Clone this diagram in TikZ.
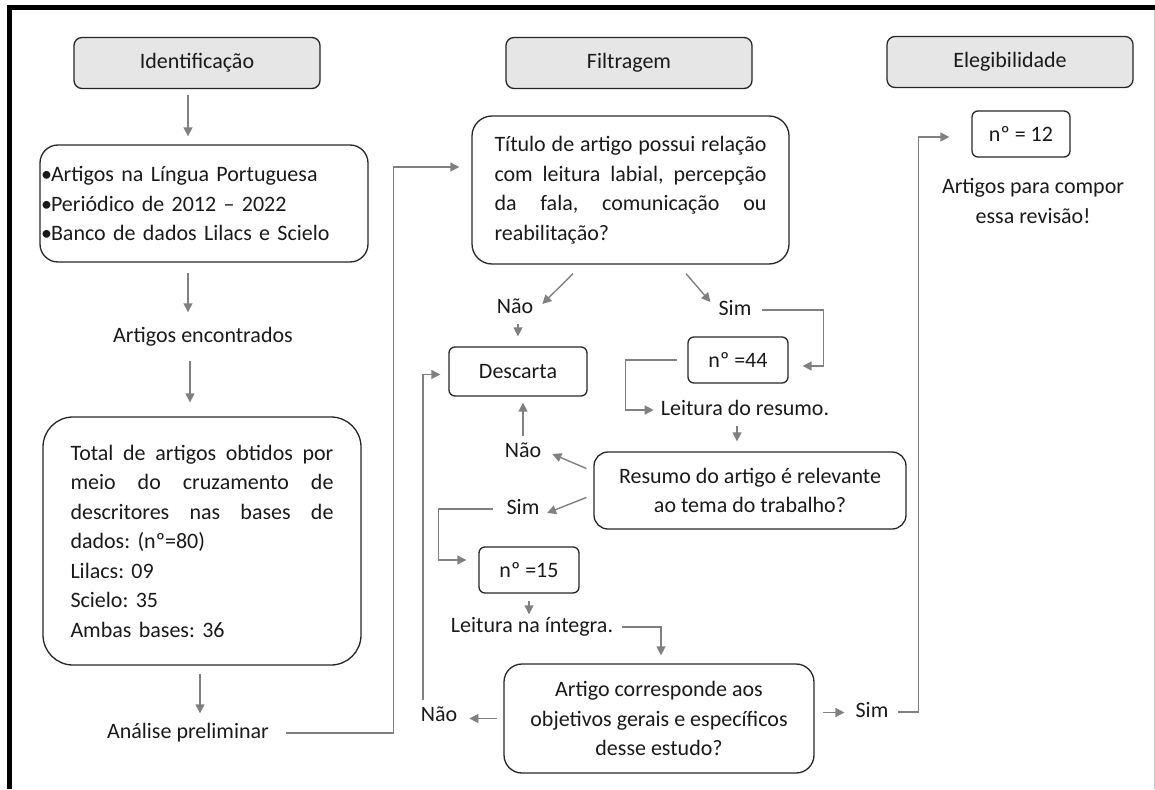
\documentclass[tikz,border=0pt]{standalone}
\usepackage{fontspec}
\setmainfont{Carlito}
\usetikzlibrary{arrows.meta,calc}
\definecolor{hdrfill}{HTML}{E7E6E6}
\definecolor{linegray}{HTML}{808080}
\definecolor{boxline}{HTML}{262626}
\definecolor{txt}{HTML}{1A1A1A}
\newcommand{\jl}[2]{\makebox[#1][s]{\spaceskip=0pt\xspaceskip=0pt #2}}
\newcommand{\blt}{\makebox[10pt][l]{•}}
\begin{document}
\begin{tikzpicture}[x=1pt,y=-1pt,
  every node/.style={font=\fontsize{22}{29.5}\selectfont\frenchspacing, text=txt},
  box/.style={draw=boxline, line width=1.3pt, inner sep=0pt},
  hdr/.style={box, fill=hdrfill, rounded corners=8pt, minimum width=246pt, minimum height=51pt},
  sbox/.style={box, rounded corners=6pt, minimum height=46pt},
  lbl/.style={inner sep=0pt, text height=15pt, text depth=4pt},
  conn/.style={draw=linegray, line width=1.4pt},
  arr/.style={conn, -{Triangle[length=9pt,width=9pt]}}]
\useasboundingbox (0,0) rectangle (1155,789);
% frame
\draw[black, line width=5pt] (9.5,789) -- (9.5,7.5) -- (1155,7.5);
\draw[black!22, line width=1pt] (1154,10) -- (1154,789);
% headers
\node[hdr] (h1) at (197,63) {Identificação};
\node[hdr] (h2) at (629,63) {Filtragem};
\node[hdr] (h3) at (1010,62) {Elegibilidade};
% left column
\node[box, rounded corners=18pt, minimum width=328pt, minimum height=117pt, text width=326pt, align=left] (crit) at (204,203.5)
  {\blt Artigos na Língua Portuguesa\\ \blt Periódico de 2012 – 2022\\ \blt Banco de dados Lilacs e Scielo};
\node[lbl] (enc) at (203,337) {Artigos encontrados};
\node[box, rounded corners=30pt, minimum width=318pt, minimum height=248pt, text width=263pt, align=left] (tot) at (202,541)
  {\jl{263pt}{Total de artigos obtidos por}\\ \jl{263pt}{meio do cruzamento de}\\ \jl{263pt}{descritores nas bases de}\\ dados: (nº=80)\\ Lilacs: 09\\ Scielo: 35\\ Ambas bases: 36};
\node[lbl] (ana) at (188,733) {Análise preliminar};
% middle column
\node[box, rounded corners=20pt, minimum width=317pt, minimum height=148pt, text width=272pt, align=left] (title) at (630.5,190)
  {\jl{272pt}{Título de artigo possui relação}\\ \jl{272pt}{com leitura labial, percepção}\\ \jl{272pt}{da fala, comunicação ou}\\ reabilitação?};
\node[lbl] (nao1) at (515,308) {Não};
\node[lbl] (sim1) at (735,310) {Sim};
\node[sbox, minimum width=138pt, minimum height=49pt] (desc) at (518,371.5) {Descarta};
\node[sbox, minimum width=100pt] (n44) at (738,360) {nº =44};
\node[lbl] (lres) at (745,410) {Leitura do resumo.};
\node[box, rounded corners=14pt, minimum width=312pt, minimum height=77pt, align=center] (res) at (750,490.5)
  {Resumo do artigo é relevante\\ao tema do trabalho?};
\node[lbl] (nao2) at (523,452) {Não};
\node[lbl] (sim2) at (523,509) {Sim};
\node[sbox, minimum width=100pt] (n15) at (529,570) {nº =15};
\node[lbl] (lint) at (532,627) {Leitura na íntegra.};
\node[box, rounded corners=18pt, minimum width=310pt, minimum height=109pt, align=center] (art) at (659,718.5)
  {Artigo corresponde aos\\objetivos gerais e específicos\\desse estudo?};
\node[lbl] (nao3) at (439,716) {Não};
\node[lbl] (sim3) at (872,712) {Sim};
% right column
\node[sbox, minimum width=98pt] (n12) at (1021,134) {nº = 12};
\node[inner sep=0pt, align=center] (eleg) at (1033,201) {Artigos para compor\\essa revisão!};
% connectors
\draw[arr, shorten <=5.5pt, shorten >=8pt] ([xshift=-9pt]h1.south) -- ([xshift=-9pt]h1.south |- crit.north);
\draw[arr, shorten <=10pt, shorten >=15pt] ([xshift=-16pt]crit.south) -- ([xshift=-16pt]crit.south |- enc.north);
\draw[arr, shorten <=14pt, shorten >=14pt] ([xshift=-12pt]tot.north |- enc.south) -- ([xshift=-12pt]tot.north);
\draw[arr, shorten <=8pt, shorten >=10pt] ([xshift=-2pt]tot.south) -- ([xshift=-2pt]tot.south |- ana.north);
\draw[arr, shorten <=17pt, shorten >=12pt] (ana.east) -| ([xshift=-78pt,yshift=23pt]title.west) -- ([yshift=23pt]title.west);
\draw[arr] ($(title.south)+(-57.5,9)$) -- ($(nao1.east)+(9,-4)$);
\draw[arr] ($(title.south)+(55.5,9)$) -- ($(sim1.west)+(-8,-8)$);
\draw[arr, shorten <=6pt, shorten >=10pt] ([xshift=3pt]nao1.south) -- ([xshift=3pt]nao1.south |- desc.north);
\draw[arr, shorten <=10pt, shorten >=14pt] (sim1.east) -| ([xshift=35pt,yshift=-6pt]n44.east) -- ([yshift=-6pt]n44.east);
\draw[arr, shorten <=10pt, shorten >=7pt] (n44.west) -| ([xshift=-35pt]lres.west) -- (lres.west);
\draw[arr, shorten <=6pt, shorten >=10pt] ([xshift=-8pt]lres.south) -- ([xshift=-8pt]lres.south |- res.north);
\draw[arr] ($(res.west)+(-7,-22)$) -- ($(nao2.east)+(11,2)$);
\draw[arr, shorten <=6pt, shorten >=6pt] (nao2.north) -- (nao2.north |- desc.south);
\draw[arr] ($(res.west)+(-7,7)$) -- ($(sim2.east)+(7.5,4)$);
\draw[arr, shorten <=13.5pt, shorten >=12pt] (sim2.west) -| ([xshift=-40pt,yshift=10pt]n15.west) -- ([yshift=10pt]n15.west);
\draw[arr, shorten <=7pt, shorten >=3pt] (n15.south) -- (n15.south |- lint.north);
\draw[arr, shorten <=9pt, shorten >=8pt] (lint.east) -| ([xshift=2pt]art.north);
\draw[arr, shorten <=6pt, shorten >=12pt] (art.west) -- (art.west -| nao3.east);
\draw[arr, shorten <=6pt, shorten >=8pt] ([xshift=-16pt]nao3.north) |- ([yshift=-3pt]desc.west);
\draw[arr, shorten <=8pt, shorten >=11pt] ([yshift=6pt]art.east) -- ([yshift=6pt]art.east -| sim3.west);
\draw[arr, shorten <=9.5pt, shorten >=22pt] (sim3.east) -| ([xshift=-53pt,yshift=-3pt]n12.west) -- ([yshift=-3pt]n12.west);
\end{tikzpicture}
\end{document}
